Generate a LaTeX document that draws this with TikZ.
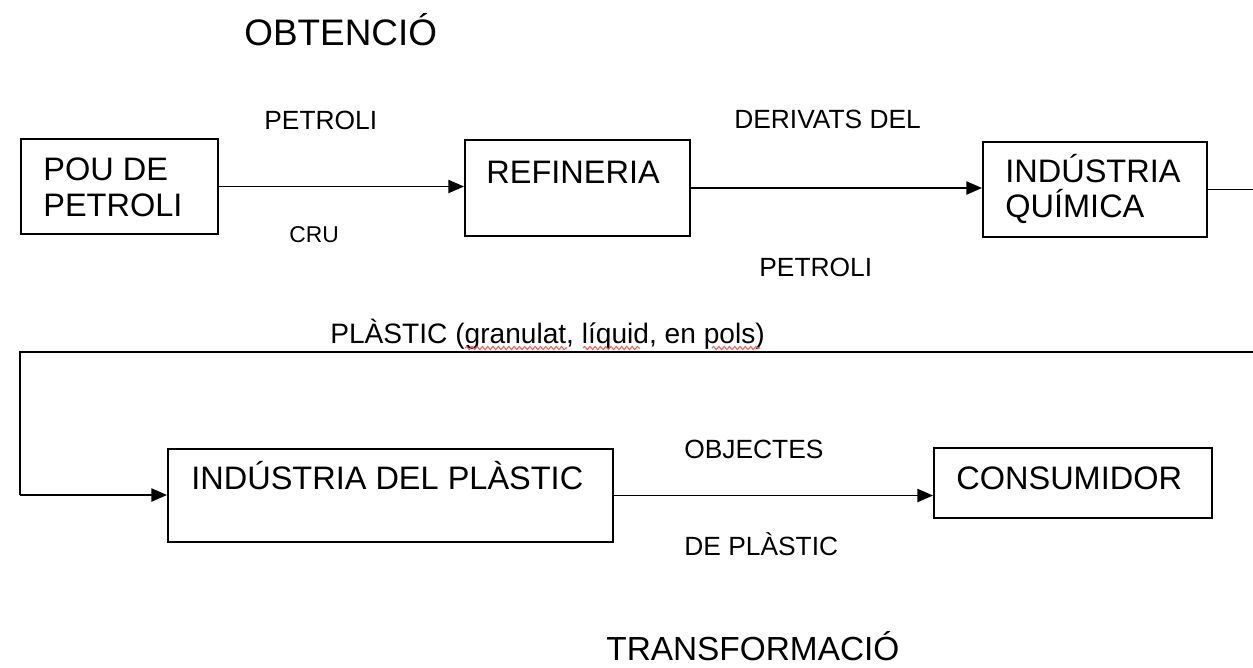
\documentclass[tikz,border=0pt]{standalone}
\usepackage{fontspec}
\setmainfont{Liberation Sans}
\usetikzlibrary{arrows.meta,decorations.pathmorphing}

\begin{document}
\begin{tikzpicture}[x=0.02cm,y=-0.02cm,
  box/.style={draw,line width=1.1pt,inner sep=0},
  boxtext/.style={anchor=base west,inner sep=0,font=\fontsize{18.5}{22}\selectfont},
  lbl/.style={anchor=base west,inner sep=0,font=\fontsize{15}{18}\selectfont},
  title/.style={anchor=base west,inner sep=0,font=\fontsize{21}{25}\selectfont},
  flow/.style={draw,line width=1.1pt,-{Triangle[length=9pt,width=7.5pt]}},
  wire/.style={draw,line width=1.1pt},
  spell/.style={draw=red!65,line width=0.6pt,decorate,decoration={snake,amplitude=0.9pt,segment length=3pt}}]
  \useasboundingbox (0,0) rectangle (1253,667);

  % boxes
  \draw (119.5,186.5) node[box,minimum width=3.94cm,minimum height=1.9cm](pou) {};
  \draw (577.5,188)   node[box,minimum width=4.5cm,minimum height=1.92cm](ref) {};
  \draw (1095,189.5)  node[box,minimum width=4.48cm,minimum height=1.9cm](qui) {};
  \draw (390.5,495.5) node[box,minimum width=8.9cm,minimum height=1.86cm](idp) {};
  \draw (1073,483)    node[box,minimum width=5.56cm,minimum height=1.4cm](con) {};

  % box texts
  \draw (43,180)  node[boxtext](pou1) {POU DE};
  \draw (43,216)  node[boxtext](pou2) {PETROLI};
  \draw (486,183) node[boxtext](ref1) {REFINERIA};
  \draw (1005,182) node[boxtext](qui1) {INDÚSTRIA};
  \draw (1005,217) node[boxtext](qui2) {QUÍMICA};
  \draw (191,489) node[boxtext](idp1) {INDÚSTRIA DEL PLÀSTIC};
  \draw (956,489) node[boxtext](con1) {CONSUMIDOR};

  % titles
  \draw (244,45)  node[title](obt) {OBTENCIÓ};
  \draw (606,660) node[title,font=\fontsize{19}{23}\selectfont](tra) {TRANSFORMACIÓ};

  % labels
  \draw (264,129) node[lbl](crul1) {PETROLI};
  \draw (289,242) node[lbl,font=\fontsize{13}{16}\selectfont](crul2) {CRU};
  \draw (734,128) node[lbl](der1) {DERIVATS DEL};
  \draw (759,276) node[lbl](der2) {PETROLI};
  \draw (330,343) node[lbl,font=\fontsize{16}{19}\selectfont](pla) {PLÀSTIC (granulat, líquid, en pols)};
  \draw (684,458) node[lbl](obj1) {OBJECTES};
  \draw (684,555) node[lbl](obj2) {DE PLÀSTIC};

  % spelling marks
  \path[spell] (465,348) -- (567,348);
  \path[spell] (583,348) -- (640,348);
  \path[spell] (712,348) -- (760,348);

  % corners of the return line
  \coordinate (tr) at (1253,352);
  \coordinate (tl) at (20,352);
  \coordinate (bl) at (20,495);

  \path[flow] (pou.east) -- (pou.east -| ref.west);
  \path[flow] (ref.east) -- (ref.east -| qui.west);
  \path[wire] (qui.east) -- (qui.east -| tr);
  \path[wire] (tr) -- (tl) -- (bl);
  \path[flow] (bl) -- (bl -| idp.west);
  \path[flow] (idp.east) -- (idp.east -| con.west);

\end{tikzpicture}
\end{document}
